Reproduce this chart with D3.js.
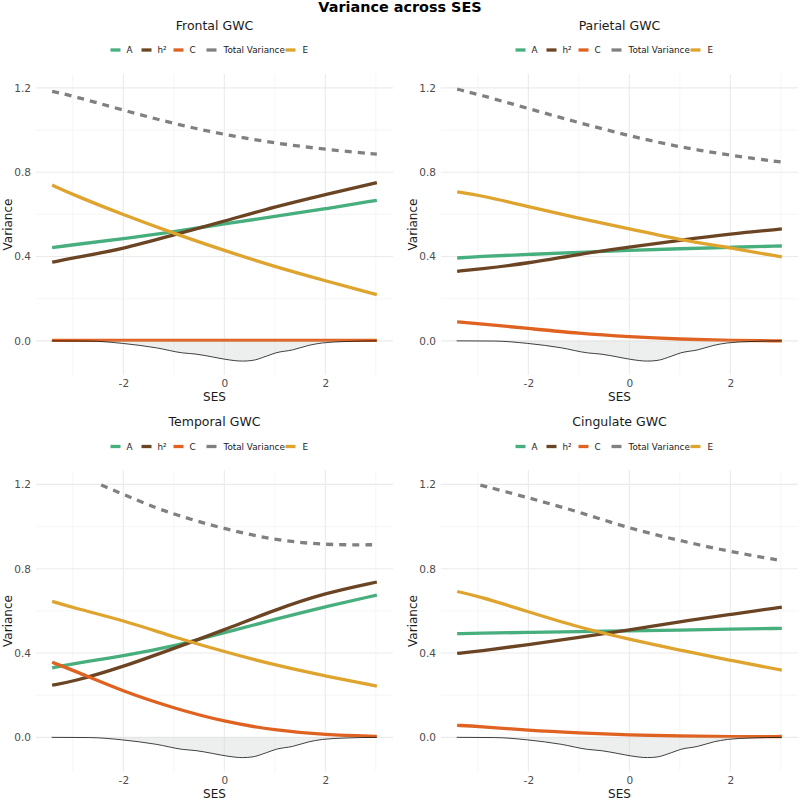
<!DOCTYPE html>
<html>
<head>
<meta charset="utf-8">
<script src="https://cdn.jsdelivr.net/npm/d3@7"></script>
<style>
  body { margin: 0; background: #fff; }
  text { font-family: "DejaVu Sans", sans-serif; }
</style>
</head>
<body>
<script>
// SES sample points
var sesGrid = [-3.41, -3, -2, -1, 0, 1, 2, 3.02];

// Frontal GWC
var frontalA     = [0.442, 0.456, 0.484, 0.518, 0.555, 0.590, 0.626, 0.667];
var frontalH2    = [0.373, 0.393, 0.436, 0.503, 0.568, 0.636, 0.694, 0.751];
var frontalC     = [0.002, 0.002, 0.002, 0.002, 0.002, 0.002, 0.002, 0.002];
var frontalE     = [0.739, 0.694, 0.598, 0.510, 0.428, 0.352, 0.285, 0.219];
var frontalTotX  = [-3.41, -3, -2, -1, 0, 1, 2, 3.02];
var frontalTot   = [1.184, 1.162, 1.094, 1.030, 0.978, 0.938, 0.908, 0.886];

// Parietal GWC
var parietalA    = [0.393, 0.400, 0.410, 0.420, 0.430, 0.437, 0.444, 0.450];
var parietalH2   = [0.330, 0.340, 0.368, 0.411, 0.445, 0.477, 0.507, 0.531];
var parietalC    = [0.090, 0.082, 0.059, 0.035, 0.019, 0.008, 0.002, 0.000];
var parietalE    = [0.707, 0.693, 0.637, 0.582, 0.531, 0.480, 0.441, 0.398];
var parietalTotX = [-3.41, -3, -2, -1, 0, 1, 2, 3.02];
var parietalTot  = [1.194, 1.170, 1.102, 1.035, 0.972, 0.919, 0.880, 0.848];

// Temporal GWC
var temporalA    = [0.330, 0.350, 0.386, 0.433, 0.496, 0.560, 0.620, 0.675];
var temporalH2   = [0.248, 0.264, 0.335, 0.422, 0.510, 0.605, 0.685, 0.737];
var temporalC    = [0.356, 0.319, 0.217, 0.138, 0.074, 0.033, 0.011, 0.005];
var temporalE    = [0.645, 0.615, 0.555, 0.476, 0.406, 0.343, 0.291, 0.243];
var temporalTotX = [-2.44, -2, -1.5, -1, 0, 1, 2, 3.02];
var temporalTot  = [1.197, 1.153, 1.102, 1.058, 0.988, 0.936, 0.912, 0.914];

// Cingulate GWC
var cingulateA    = [0.492, 0.494, 0.498, 0.502, 0.505, 0.509, 0.513, 0.517];
var cingulateH2   = [0.398, 0.408, 0.440, 0.474, 0.509, 0.549, 0.583, 0.618];
var cingulateC    = [0.057, 0.052, 0.033, 0.021, 0.011, 0.006, 0.003, 0.004];
var cingulateE    = [0.692, 0.670, 0.596, 0.522, 0.465, 0.414, 0.365, 0.319];
var cingulateTotX = [-2.95, -2, -1, 0, 1, 2, 3.02];
var cingulateTot  = [1.197, 1.137, 1.070, 0.991, 0.933, 0.881, 0.838];

// SES density (drawn downward from 0)
var densX = [-3.42, -2.67, -2.02, -1.35, -0.83, -0.56, -0.24, 0.03, 0.36, 0.55, 0.83, 1.02, 1.35, 1.68, 1.94, 2.41, 3.02];
var densY = [0, -0.001, -0.012, -0.033, -0.057, -0.063, -0.076, -0.088, -0.096, -0.093, -0.073, -0.057, -0.043, -0.021, -0.010, -0.003, 0];

var panelNames = ["Frontal GWC", "Parietal GWC", "Temporal GWC", "Cingulate GWC"];
var seriesNames = ["A", "h\u00b2", "C", "Total Variance", "E"];
var colors = ["#47ae7e", "#6b4423", "#df6220", "#808080", "#dea42e"];

var yTicks = [0, 0.4, 0.8, 1.2];
var yMinor = [0.2, 0.6, 1.0];
var xTicks = [-2, 0, 2];
var xMinor = [-3, -1, 1, 3];

var panelData = [
  [frontalA, frontalH2, frontalC, [frontalTotX, frontalTot], frontalE],
  [parietalA, parietalH2, parietalC, [parietalTotX, parietalTot], parietalE],
  [temporalA, temporalH2, temporalC, [temporalTotX, temporalTot], temporalE],
  [cingulateA, cingulateH2, cingulateC, [cingulateTotX, cingulateTot], cingulateE]
];

var W = 800, H = 800;
var pw = 357, ph = 301;
var lefts = [36, 441], tops = [74, 470.5];

var svg = d3.select("body").append("svg")
    .attr("width", W)
    .attr("height", H);

svg.append("text")
    .attr("x", W / 2).attr("y", 12)
    .attr("text-anchor", "middle")
    .attr("font-size", 14.4)
    .attr("font-weight", "bold")
    .text("Variance across SES");

// legend offsets from panel centre
var keyOff = [-98, -67, -35, -2, 77];
var labOff = [-82, -51, -19, 15, 94];

panelNames.forEach(function (name, p) {
    var col = p % 2, row = Math.floor(p / 2);
    var L = lefts[col], T = tops[row];
    var cx = L + pw / 2 - 6;

    var x = d3.scaleLinear().domain([-3.73, 3.34]).range([L, L + pw]);
    var y = d3.scaleLinear().domain([-0.162, 1.266]).range([T + ph, T]);

    var g = svg.append("g");

    // grid
    g.selectAll(".gmy").data(yMinor).enter().append("line")
        .attr("x1", L).attr("x2", L + pw)
        .attr("y1", function (d) { return y(d); }).attr("y2", function (d) { return y(d); })
        .attr("stroke", "#f0f0f0").attr("stroke-width", 0.6);
    g.selectAll(".gmx").data(xMinor).enter().append("line")
        .attr("y1", T).attr("y2", T + ph)
        .attr("x1", function (d) { return x(d); }).attr("x2", function (d) { return x(d); })
        .attr("stroke", "#f0f0f0").attr("stroke-width", 0.6);
    g.selectAll(".gy").data(yTicks).enter().append("line")
        .attr("x1", L).attr("x2", L + pw)
        .attr("y1", function (d) { return y(d); }).attr("y2", function (d) { return y(d); })
        .attr("stroke", "#ebebeb").attr("stroke-width", 1.1);
    g.selectAll(".gx").data(xTicks).enter().append("line")
        .attr("y1", T).attr("y2", T + ph)
        .attr("x1", function (d) { return x(d); }).attr("x2", function (d) { return x(d); })
        .attr("stroke", "#ebebeb").attr("stroke-width", 1.1);

    // axes
    var xa = g.append("g")
        .attr("transform", "translate(0," + (T + ph) + ")")
        .call(d3.axisBottom(x).tickValues(xTicks).tickFormat(function (d) { return String(d); })
            .tickSize(0).tickPadding(5));
    var ya = g.append("g")
        .attr("transform", "translate(" + L + ",0)")
        .call(d3.axisLeft(y).tickValues(yTicks).tickFormat(d3.format(".1f")).tickSize(0).tickPadding(5));
    [xa, ya].forEach(function (a) {
        a.select(".domain").remove();
        a.selectAll("text").attr("font-size", 10.5).attr("fill", "#4d4d4d")
            .attr("font-family", "DejaVu Sans, sans-serif");
    });

    // series
    var line = d3.line()
        .x(function (d) { return x(d[0]); })
        .y(function (d) { return y(d[1]); })
        .curve(d3.curveBasis);
    var dline = d3.line()
        .x(function (d) { return x(d[0]); })
        .y(function (d) { return y(d[1]); })
        .curve(d3.curveMonotoneX);

    panelData[p].forEach(function (s, i) {
        var pts;
        if (i === 3) {
            pts = s[0].map(function (v, k) { return [v, s[1][k]]; });
        } else {
            pts = sesGrid.map(function (v, k) { return [v, s[k]]; });
        }
        g.append("path")
            .attr("d", line(pts))
            .attr("fill", "none")
            .attr("stroke", colors[i])
            .attr("stroke-width", 3.3)
            .attr("stroke-dasharray", i === 3 ? "7,6" : null);
    });

    // density
    var dpts = densX.map(function (v, k) { return [v, densY[k]]; });
    g.append("path")
        .attr("d", d3.area()
            .x(function (d) { return x(d[0]); })
            .y0(y(0))
            .y1(function (d) { return y(d[1]); })
            .curve(d3.curveMonotoneX)(dpts))
        .attr("fill", "#d3d7d5").attr("fill-opacity", 0.4);
    g.append("path")
        .attr("d", dline(dpts))
        .attr("fill", "none").attr("stroke", "#111").attr("stroke-width", 0.8);

    // titles
    g.append("text")
        .attr("x", cx + 6).attr("y", T - 49 + 4.5)
        .attr("text-anchor", "middle").attr("font-size", 12.5).attr("fill", "#1a1a1a")
        .text(name);
    g.append("text")
        .attr("x", L + pw / 2).attr("y", T + ph + 26)
        .attr("text-anchor", "middle").attr("font-size", 12).attr("fill", "#1a1a1a")
        .text("SES");
    g.append("text")
        .attr("transform", "translate(" + (L - 24) + "," + (T + ph / 2) + ") rotate(-90)")
        .attr("text-anchor", "middle").attr("font-size", 12).attr("fill", "#1a1a1a")
        .text("Variance");

    // legend
    var ly = T - 24;
    seriesNames.forEach(function (s, i) {
        g.append("line")
            .attr("x1", cx + keyOff[i]).attr("x2", cx + keyOff[i] + 10)
            .attr("y1", ly).attr("y2", ly)
            .attr("stroke", colors[i]).attr("stroke-width", 3.3);
        g.append("text")
            .attr("x", cx + labOff[i]).attr("y", ly + 3.2)
            .attr("font-size", 8.8).attr("fill", "#1a1a1a")
            .text(s);
    });
});
</script>
</body>
</html>
